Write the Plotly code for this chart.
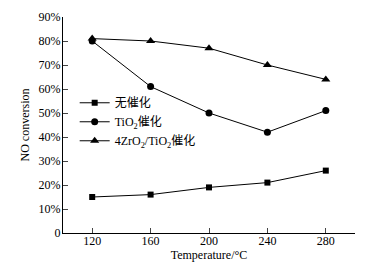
import plotly.graph_objects as go

temps = [120, 160, 200, 240, 280]
no_cat = [15, 16, 19, 21, 26]
tio2 = [80, 61, 50, 42, 51]
zr_tio2 = [81, 80, 77, 70, 64]
names = ["无催化", "TiO<sub>2</sub>催化", "4ZrO<sub>2</sub>/TiO<sub>2</sub>催化"]
ytick_vals = [0, 10, 20, 30, 40, 50, 60, 70, 80, 90]
ytick_text = ["0", "10%", "20%", "30%", "40%", "50%", "60%", "70%", "80%", "90%"]
xtick_vals = [120, 160, 200, 240, 280, 300]
xtick_text = ["120", "160", "200", "240", "280", ""]

FONT = "Liberation Serif, Times New Roman, Noto Sans CJK SC, serif"

fig = go.Figure()
for ys, nm, sym, sz in [(no_cat, names[0], "square", 6),
                        (tio2, names[1], "circle", 7),
                        (zr_tio2, names[2], "triangle-up", 8)]:
    fig.add_trace(go.Scatter(x=temps, y=ys, name=nm, mode="lines+markers",
                             line=dict(color="black", width=1),
                             marker=dict(symbol=sym, size=sz, color="black")))

fig.update_layout(
    width=380, height=272,
    margin=dict(l=63, r=25, t=17, b=39),
    paper_bgcolor="white", plot_bgcolor="white",
    font=dict(family=FONT, size=12, color="black"),
    showlegend=True,
    legend=dict(x=0.04, y=0.67, xanchor="left", yanchor="top",
                bgcolor="rgba(0,0,0,0)", font=dict(size=12), tracegroupgap=0,
                itemwidth=30),
    xaxis=dict(range=[100, 300], tickvals=xtick_vals, ticktext=xtick_text,
               ticks="inside", ticklen=5, automargin=False, ticklabelstandoff=-3,
               showline=True, linecolor="black", linewidth=1, showgrid=False,
               zeroline=False, mirror=False,
               title=dict(text="Temperature/°C", standoff=3, font=dict(size=12))),
    yaxis=dict(range=[0, 90], tickvals=ytick_vals, ticktext=ytick_text,
               ticks="inside", ticklen=5, showline=True, linecolor="black",
               linewidth=1, showgrid=False, zeroline=False, automargin=False,
               ticklabelstandoff=-1,
               title=dict(text="NO conversion", standoff=6, font=dict(size=12))),
)
fig.write_html("out.html", config={"displayModeBar": False},
               post_script="document.body.style.margin='0';document.body.style.overflow='hidden';")
